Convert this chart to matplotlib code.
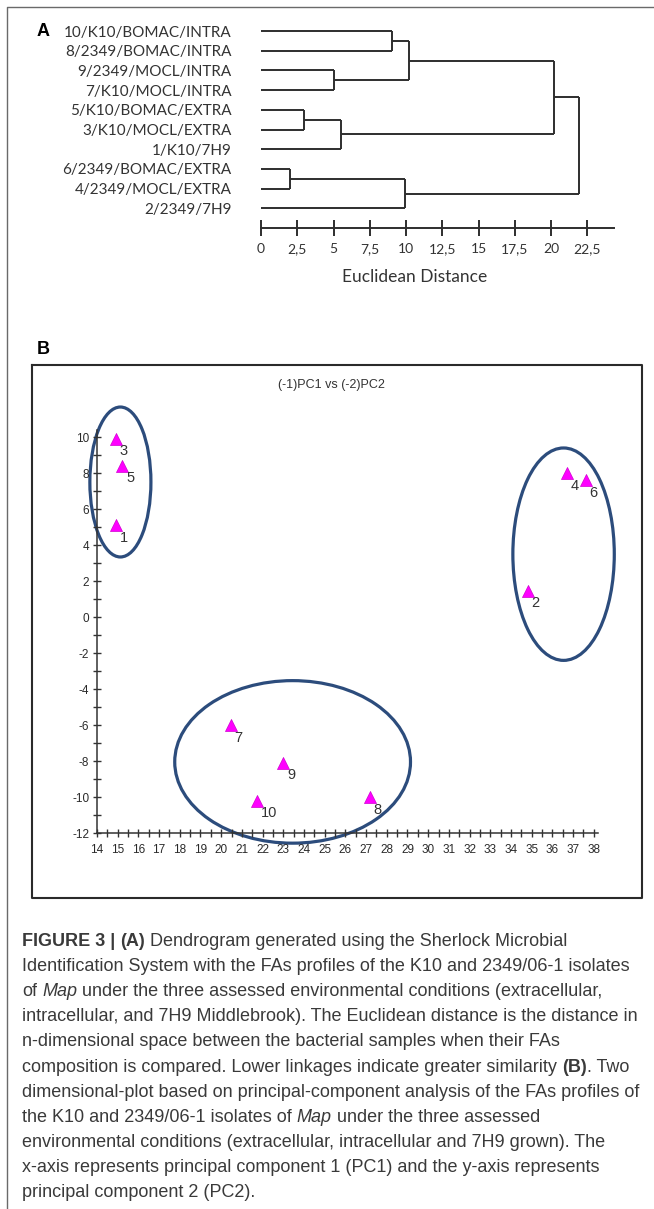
import numpy as np
import matplotlib
matplotlib.use("Agg")
import matplotlib.pyplot as plt
from matplotlib.patches import Ellipse
from matplotlib.ticker import MultipleLocator

plt.rcParams["axes.unicode_minus"] = False

# ---- panel A: dendrogram data ----
leaf_labels = ["10/K10/BOMAC/INTRA", "8/2349/BOMAC/INTRA", "9/2349/MOCL/INTRA",
               "7/K10/MOCL/INTRA", "5/K10/BOMAC/EXTRA", "3/K10/MOCL/EXTRA",
               "1/K10/7H9", "6/2349/BOMAC/EXTRA", "4/2349/MOCL/EXTRA", "2/2349/7H9"]
# merges: (child a, child b, distance); leaves are 0..9, new nodes start at 10
merge_a = [0, 2, 10, 4, 13, 7, 15, 12, 17]
merge_b = [1, 3, 11, 5, 6, 8, 9, 14, 16]
merge_dist = [9.0, 5.0, 10.2, 2.95, 5.5, 2.0, 9.95, 20.2, 21.9]
dist_ticks = [0, 2.5, 5, 7.5, 10, 12.5, 15, 17.5, 20, 22.5]

# ---- panel B: PCA scores ----
sample_ids = ["1", "2", "3", "4", "5", "6", "7", "8", "9", "10"]
pc1 = [14.9, 34.8, 14.9, 36.7, 15.2, 37.6, 20.45, 27.17, 22.98, 21.72]
pc2 = [5.1, 1.45, 9.9, 8.0, 8.4, 7.6, -6.0, -10.0, -8.1, -10.2]
# cluster ellipses: centre x, centre y, width, height
ell_x = [15.13, 36.54, 23.45]
ell_y = [7.5, 3.49, -8.05]
ell_w = [2.95, 4.9, 11.39]
ell_h = [8.33, 11.8, 9.03]

caption_lines = [
    [("FIGURE 3 |", "b"), (" (A)", "b"), (" Dendrogram generated using the Sherlock Microbial", "n")],
    [("Identification System with the FAs profiles of the K10 and 2349/06-1 isolates", "n")],
    [("of", "n"), (" Map", "i"), (" under the three assessed environmental conditions (extracellular,", "n")],
    [("intracellular, and 7H9 Middlebrook). The Euclidean distance is the distance in", "n")],
    [("n-dimensional space between the bacterial samples when their FAs", "n")],
    [("composition is compared. Lower linkages indicate greater similarity", "n"), (" (B)", "b"), (". Two", "n")],
    [("dimensional-plot based on principal-component analysis of the FAs profiles of", "n")],
    [("the K10 and 2349/06-1 isolates of", "n"), (" Map", "i"), (" under the three assessed", "n")],
    [("environmental conditions (extracellular, intracellular and 7H9 grown). The", "n")],
    [("x-axis represents principal component 1 (PC1) and the y-axis represents", "n")],
    [("principal component 2 (PC2).", "n")],
]

W, H = 654, 1209
fig = plt.figure(figsize=(W / 100, H / 100), dpi=100)


def px_axes(x0, y0, x1, y1):
    return fig.add_axes([x0 / W, 1 - y1 / H, (x1 - x0) / W, (y1 - y0) / H])


# overlay in pixel units for frames and caption
ov = fig.add_axes([0, 0, 1, 1])
ov.set_xlim(0, W)
ov.set_ylim(H, 0)
ov.axis("off")
ov.plot([7, 7, W], [H, 7, 7], color="#6a6a6a", lw=1.0)
ov.plot([32, 642, 642, 32, 32], [365, 365, 898, 898, 365], color="#2a2a2a", lw=1.5)
ov.text(37, 32, "A", fontsize=13, fontweight="bold", family="Liberation Sans", va="center")
ov.text(37, 350, "B", fontsize=13, fontweight="bold", family="Liberation Sans", va="center")

# ---- dendrogram ----
row0, drow = 31, 19.7
axA = px_axes(261, row0 - 0.6 * drow, 261 + 25 * 14.5, row0 + 10.6 * drow)
axA.set_xlim(0, 25)
axA.set_ylim(10.6, -0.6)
line_kw = dict(color="#2e2e2e", lw=1.4, solid_capstyle="butt")
node_y = list(range(len(leaf_labels)))
node_h = [0.0] * len(leaf_labels)
for a, b, d in zip(merge_a, merge_b, merge_dist):
    for c in (a, b):
        axA.plot([node_h[c], d], [node_y[c], node_y[c]], **line_kw)
    axA.plot([d, d], [node_y[a], node_y[b]], **line_kw)
    node_y.append((node_y[a] + node_y[b]) / 2)
    node_h.append(d)

for s in ["top", "right", "left"]:
    axA.spines[s].set_visible(False)
axA.spines["bottom"].set_position(("data", 10))
axA.spines["bottom"].set_bounds(0, 24.35)
axA.spines["bottom"].set_color("#2e2e2e")
axA.spines["bottom"].set_linewidth(1.4)
axA.set_xticks(dist_ticks, [f"{t:g}".replace(".", ",") for t in dist_ticks],
               family="Lato", fontsize=10, color="#333333")
axA.tick_params(axis="x", direction="inout", length=11.5, width=1.4, color="#2e2e2e", pad=5)
axA.set_yticks(range(len(leaf_labels)), leaf_labels, family="Lato", fontsize=11, color="#333333")
axA.tick_params(axis="y", length=0, pad=21)
axA.set_xlabel("Euclidean Distance", family="Lato", fontsize=12.5, color="#333333")
axA.xaxis.set_label_coords(0.425, -(277 - (row0 + 10.6 * drow)) / (11.2 * drow))
axA.xaxis.label.set_va("center")
axA.patch.set_alpha(0)

# ---- PCA scatter ----
axB = px_axes(97, 833 - 22.4 * 18, 97 + 24.2 * 20.7, 833)
axB.set_xlim(14, 38.2)
axB.set_ylim(-12, 10.4)
axB.patch.set_alpha(0)
for s in ["top", "right"]:
    axB.spines[s].set_visible(False)
for s in ["left", "bottom"]:
    axB.spines[s].set_color("#333333")
    axB.spines[s].set_linewidth(1.1)
axB.xaxis.set_major_locator(MultipleLocator(1))
axB.xaxis.set_minor_locator(MultipleLocator(0.5))
axB.yaxis.set_major_locator(MultipleLocator(2))
axB.yaxis.set_minor_locator(MultipleLocator(1))
axB.tick_params(which="both", direction="inout", length=6, width=1.0, color="#333333",
                labelsize=8.5, labelcolor="#2a2a2a")
axB.tick_params(axis="x", which="both", pad=5)
axB.tick_params(axis="y", which="both", pad=2.5)
for lbl in axB.get_xticklabels() + axB.get_yticklabels():
    lbl.set_family("Liberation Sans")

for cx, cy, w, h in zip(ell_x, ell_y, ell_w, ell_h):
    axB.add_patch(Ellipse((cx, cy), w, h, fill=False, edgecolor="#2c4c7c", lw=2.3, clip_on=False))

axB.scatter(pc1, pc2, marker="^", s=75, color="#ff00ff", edgecolor="#d000d0", lw=0.5,
            clip_on=False, zorder=3)
for x, y, t in zip(pc1, pc2, sample_ids):
    axB.annotate(t, (x, y), xytext=(3, -4), textcoords="offset points", ha="left", va="top",
                 fontsize=10.5, color="#333333", family="Liberation Sans")

ov.text(331, 385, "(-1)PC1 vs (-2)PC2", fontsize=9, color="#333333", family="Liberation Sans",
        ha="center", va="center")

# ---- caption ----
renderer = fig.canvas.get_renderer()
cap_kw = dict(fontsize=13, family="Liberation Sans", color="#3a3a3a", va="baseline", ha="left")
probe1 = ov.text(0, 0, "x x", **cap_kw)
probe2 = ov.text(0, 0, "xx", **cap_kw)
space_w = probe1.get_window_extent(renderer).width - probe2.get_window_extent(renderer).width
probe1.remove()
probe2.remove()
for i, segs in enumerate(caption_lines):
    x = 22
    y = 946 + i * 25.1
    for txt, st in segs:
        lead = len(txt) - len(txt.lstrip(" "))
        x += lead * space_w
        t = ov.text(x, y, txt.strip(" "), fontweight="bold" if st == "b" else "normal",
                    fontstyle="italic" if st == "i" else "normal", **cap_kw)
        x += t.get_window_extent(renderer).width

fig.savefig("out.png", dpi=100)
